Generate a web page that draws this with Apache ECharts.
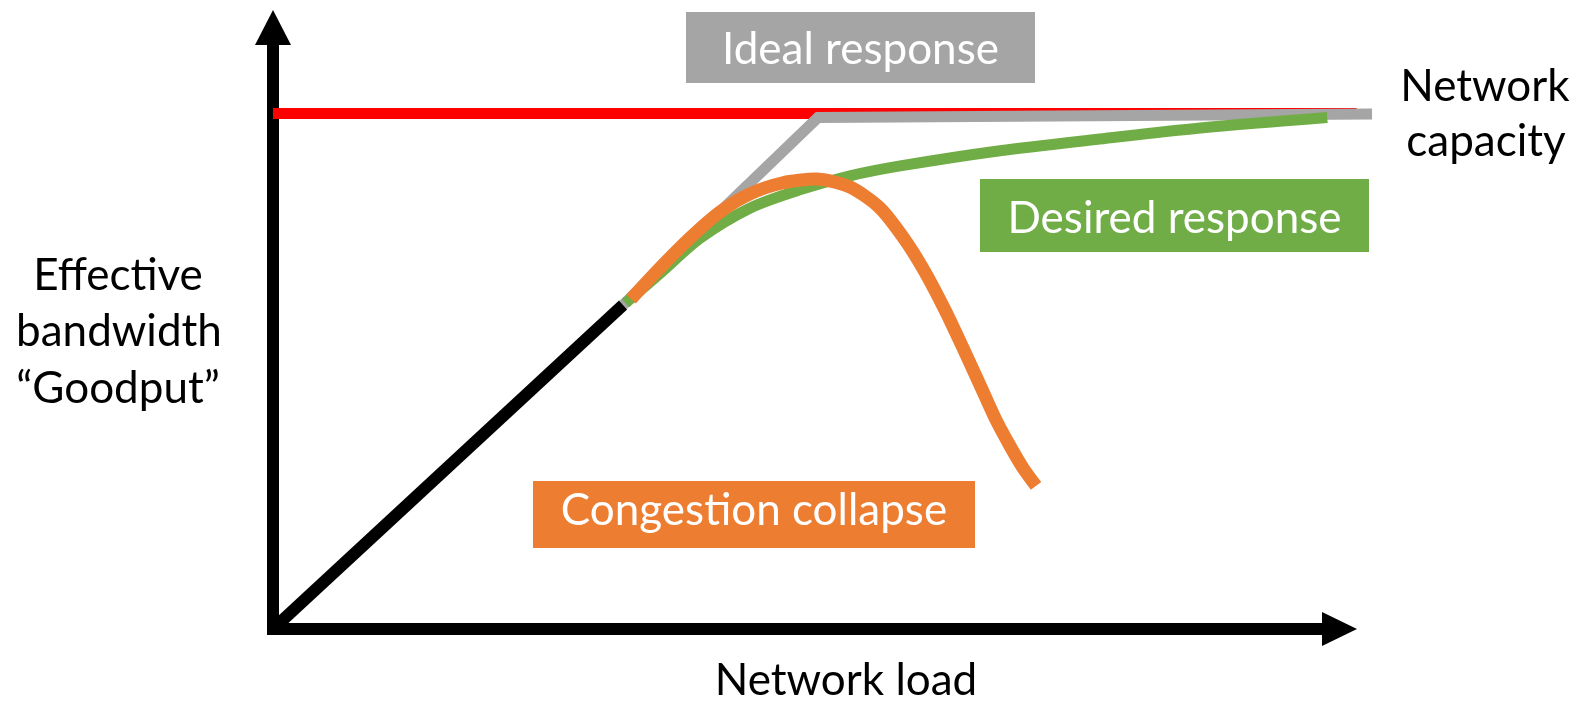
<!DOCTYPE html>
<html lang="en" style="height: 100%">

<head>
  <meta charset="utf-8">
</head>

<body style="height: 100%; margin: 0; background: #fff">
  <div id="container" style="width: 1580px; height: 707px"></div>

  <script type="text/javascript" src="https://fastly.jsdelivr.net/npm/echarts@6.0.0/dist/echarts.min.js"></script>
  <script type="text/javascript">
    // network load (x) vs goodput (y), both on a 0..100 scale
    var capacity = [[0, 88.27], [103.3, 88.27]];
    var linearPart = [[0, 0], [33.37, 55.48]];
    var ideal = [[33.37, 55.48], [51.95, 87.59], [104.77, 88.18]];
    var desired = [
      [33.6, 55.8], [36.9, 60.9], [40.7, 66.9], [45.5, 72.1], [50.2, 75.2],
      [55.0, 77.6], [59.8, 79.3], [69.3, 81.9], [78.8, 83.9], [88.4, 85.8],
      [100.5, 87.6]
    ];
    var collapse = [
      [34.13, 56.51], [36.89, 61.82], [39.75, 66.95], [42.61, 71.40], [45.47, 74.49],
      [48.52, 76.37], [51.76, 77.05], [55.01, 75.68], [57.86, 72.09], [60.25, 66.61],
      [62.15, 61.13], [64.06, 54.62], [65.78, 48.12], [67.40, 41.78], [68.83, 36.13],
      [70.26, 31.34], [71.50, 27.57], [72.74, 24.49]
    ];

    var dom = document.getElementById('container');
    var myChart = echarts.init(dom, null, { renderer: 'canvas' });

    var font = 'Lato, "Open Sans", sans-serif';
    var fs = 44;
    var ascent = 38; // top of text box to baseline at this size

    function axisLine(size) {
      return {
        show: true,
        symbol: ['none', 'triangle'],
        symbolSize: size,
        symbolOffset: [0, 17.5],
        lineStyle: { color: '#000', width: 12, cap: 'square' }
      };
    }

    var hidden = {
      axisLine: { show: false }, axisTick: { show: false },
      axisLabel: { show: false }, splitLine: { show: false }
    };

    function curve(name, data, color, width, z, smooth) {
      return {
        name: name,
        type: 'line',
        xAxisIndex: 1,
        yAxisIndex: 1,
        data: data,
        smooth: smooth,
        symbol: 'none',
        clip: false,
        z: z,
        silent: true,
        lineStyle: { color: color, width: width, cap: 'butt', join: 'miter' }
      };
    }

    function label(text, x, baseline, color) {
      return {
        type: 'text', x: x, y: baseline - ascent, silent: true, z: 100,
        style: { text: text, fill: color || '#000', font: fs + 'px ' + font, align: 'center', verticalAlign: 'top' }
      };
    }

    function box(text, x, y, w, h, color, baseline) {
      return [
        { type: 'rect', shape: { x: x, y: y, width: w, height: h }, style: { fill: color }, silent: true, z: 90 },
        label(text, x + w / 2, baseline, '#fff')
      ];
    }

    var option = {
      animation: false,
      backgroundColor: '#fff',
      grid: [
        { left: 273, right: 258, top: 45, bottom: 78 },
        { left: 273, right: 200, top: 45, bottom: 78 }
      ],
      xAxis: [
        {
          type: 'value', min: 0, max: 100, gridIndex: 0,
          axisLine: axisLine([34, 35]),
          axisTick: { show: false }, axisLabel: { show: false }, splitLine: { show: false }
        },
        Object.assign({ type: 'value', min: 0, max: 1107 / 10.49, gridIndex: 1 }, hidden)
      ],
      yAxis: [
        {
          type: 'value', min: 0, max: 100, gridIndex: 0,
          axisLine: axisLine([36, 35]),
          axisTick: { show: false }, axisLabel: { show: false }, splitLine: { show: false }
        },
        Object.assign({ type: 'value', min: 0, max: 100, gridIndex: 1 }, hidden)
      ],
      series: [
        curve('Network capacity', capacity, '#ff0000', 11, 1, false),
        curve('Ideal response', ideal, '#a5a5a5', 11, 2, false),
        curve('Linear', linearPart, '#000000', 12, 3, false),
        curve('Desired response', desired, '#70ad47', 11, 4, 0.3),
        curve('Congestion collapse', collapse, '#ed7d31', 13, 5, 0.25)
      ],
      graphic: [].concat(
        box('Ideal response', 686, 12, 349, 71, '#a5a5a5', 66),
        box('Desired response', 980, 179, 389, 73, '#70ad47', 235),
        box('Congestion collapse', 533, 481, 442, 67, '#ed7d31', 527),
        [
          label('Network', 1485, 103),
          label('capacity', 1486, 158),
          label('Effective', 118, 292),
          label('bandwidth', 119, 348),
          label('\u201CGoodput\u201D', 118, 405),
          label('Network load', 846, 697)
        ]
      )
    };

    myChart.setOption(option);
    window.addEventListener('resize', myChart.resize);
  </script>
</body>

</html>
